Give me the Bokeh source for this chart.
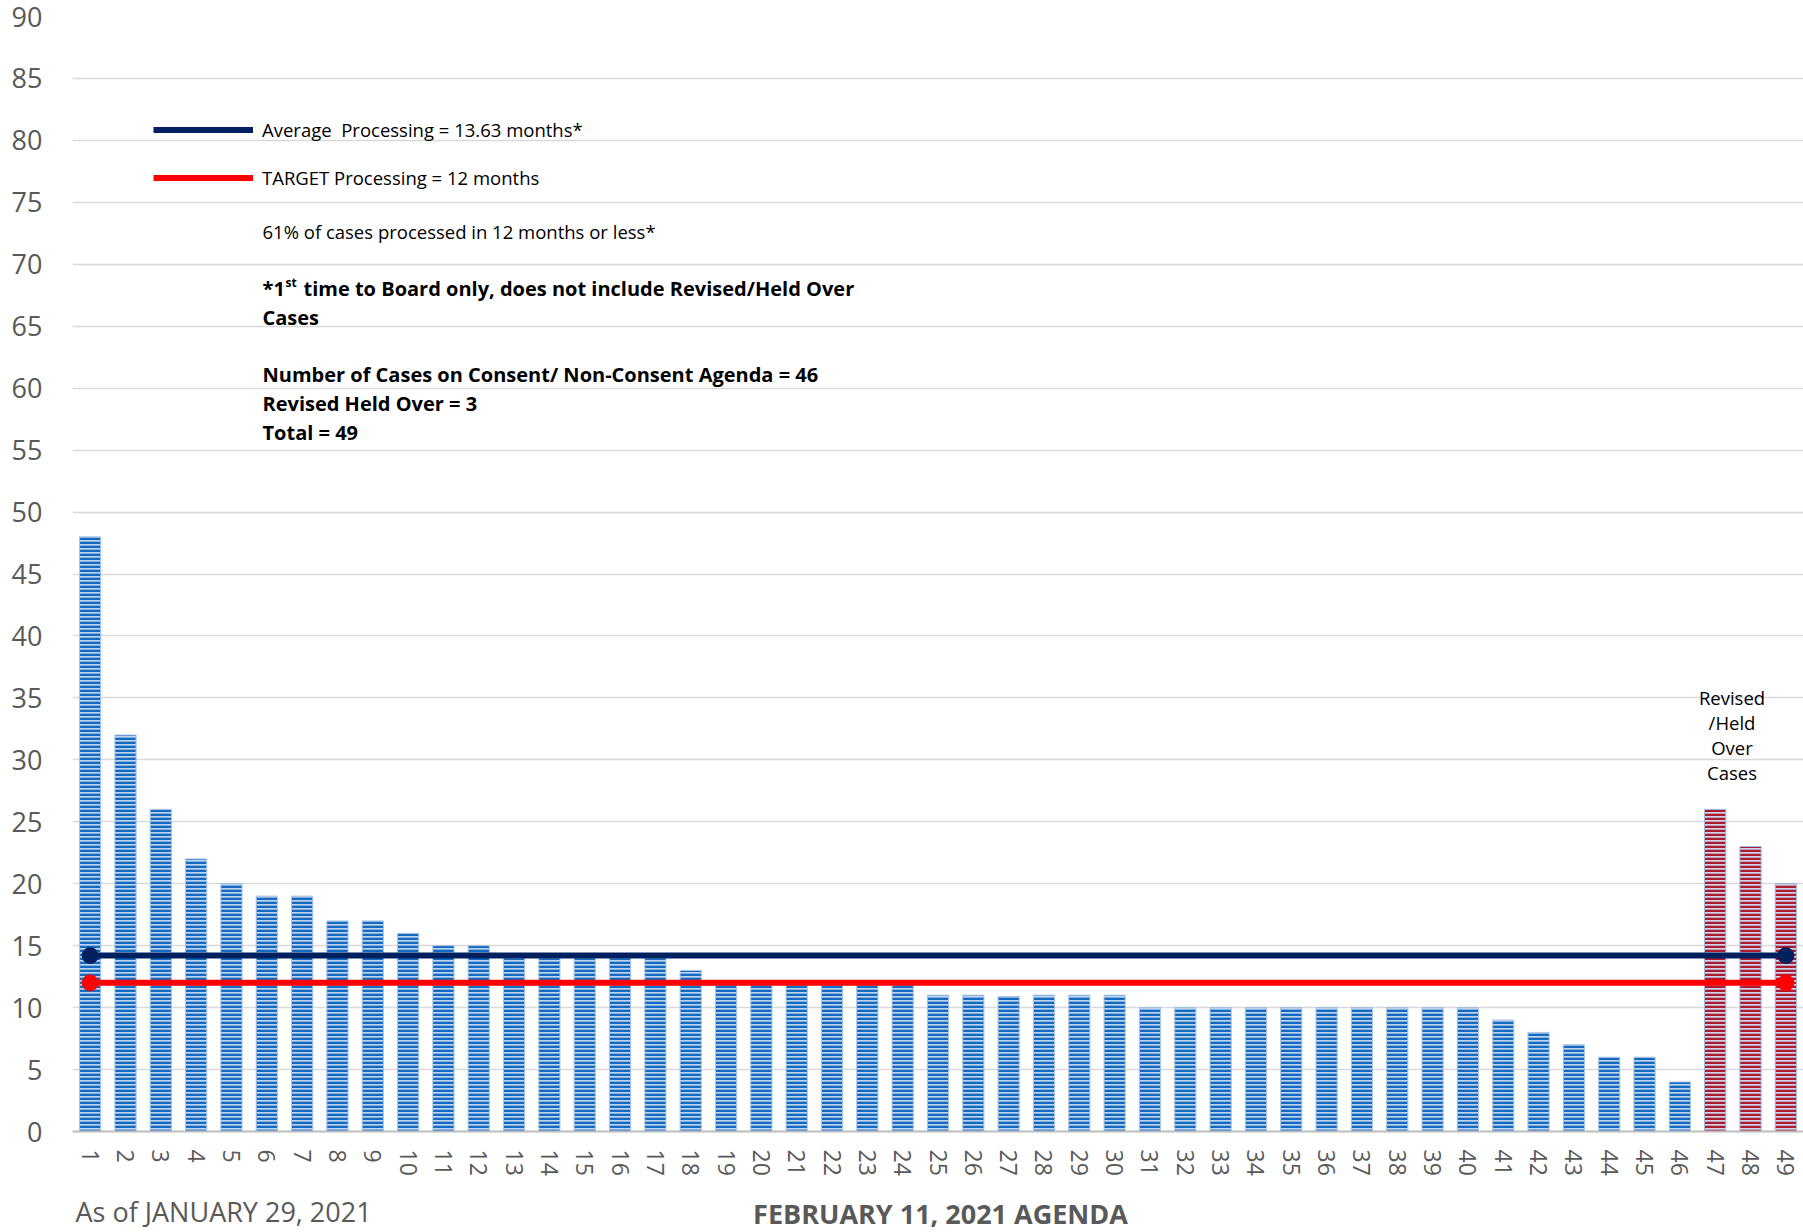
import math
from bokeh.plotting import figure
from bokeh.models import (Range1d, FixedTicker, Label, Legend, LegendItem, ColumnDataSource)
from bokeh.embed import file_html
from bokeh.resources import INLINE

# ---------------- data ----------------
cases = list(range(1, 50))
months = [48, 32, 26, 22, 20, 19, 19, 17, 17, 16, 15, 15,
          14, 14, 14, 14, 14, 13,
          12, 12, 12, 12, 12, 12,
          11, 11, 10.9, 11, 11, 11,
          10, 10, 10, 10, 10, 10, 10, 10, 10, 10,
          9, 8, 7, 6, 6, 4,
          26, 23, 20]
group = ["Consent"] * 46 + ["Revised/Held Over"] * 3
average_drawn = 14.2      # as drawn on the chart
target = 12
y_ticks = list(range(0, 95, 5))

FONT = "Open Sans"

# ---------------- layout constants ----------------
W, H = 1803, 1232
B_LEFT, B_TOP = 72, 16
ZERO_Y = 1131            # canvas y of the value-0 baseline
X0, X1 = 0.5, 49.5
FRAME_W = W - B_LEFT
PXU = FRAME_W / (X1 - X0)
FL = B_LEFT
FT = B_TOP
YPX = (ZERO_Y - FT) / 90.0          # pixels per month
Y_BOTTOM = -(H - ZERO_Y) / YPX      # frame reaches the canvas bottom


def xd(px):
    return X0 + (px - FL) / PXU


def yd(py):
    return (ZERO_Y - py) / YPX


p = figure(width=W, height=H, output_backend="svg", toolbar_location=None,
           x_range=Range1d(X0, X1), y_range=Range1d(Y_BOTTOM, 90),
           min_border_left=B_LEFT, min_border_right=0,
           min_border_top=B_TOP, min_border_bottom=0)
p.outline_line_color = None
p.background_fill_color = "white"

# bars
blue_src = ColumnDataSource(dict(x=[c for c, g in zip(cases, group) if g == "Consent"],
                                 top=[m for m, g in zip(months, group) if g == "Consent"]))
red_src = ColumnDataSource(dict(x=[c for c, g in zip(cases, group) if g != "Consent"],
                                top=[m for m, g in zip(months, group) if g != "Consent"]))
p.vbar(x="x", top="top", bottom=0, width=0.6, source=blue_src,
       fill_color="#BFD5EE", line_color="#A8C3E6", line_width=1,
       hatch_pattern="horizontal_line", hatch_color="#146AC0",
       hatch_scale=4, hatch_weight=2.7)
p.vbar(x="x", top="top", bottom=0, width=0.6, source=red_src,
       fill_color="#C9D6EC", line_color="#9DB8E0", line_width=1,
       hatch_pattern="horizontal_line", hatch_color="#AE1A2E",
       hatch_scale=4, hatch_weight=2.6)

# reference lines
line_x = [cases[0], cases[-1]]
avg_r = p.line(x=line_x, y=[average_drawn] * 2, line_color="#002060", line_width=6)
p.scatter(x=line_x, y=[average_drawn] * 2, size=16, color="#002060")
tgt_r = p.line(x=line_x, y=[target] * 2, line_color="#FF0000", line_width=6)
p.scatter(x=line_x, y=[target] * 2, size=16, color="#FF0000")

legend = Legend(items=[LegendItem(label="Average  Processing = 13.63 months*", renderers=[avg_r]),
                       LegendItem(label="TARGET Processing = 12 months", renderers=[tgt_r])],
                location=(81, (H - FT) - 174), orientation="vertical",
                glyph_width=100, glyph_height=25, label_height=25, spacing=23,
                label_standoff=9, padding=0, margin=0,
                border_line_alpha=0, background_fill_alpha=0,
                label_text_font=FONT, label_text_font_size="18.5px",
                label_text_color="black", label_text_baseline="middle")
p.add_layout(legend, "center")

# axes
p.yaxis.ticker = FixedTicker(ticks=y_ticks)
p.yaxis.axis_line_color = None
p.yaxis.major_tick_line_color = None
p.yaxis.minor_tick_line_color = None
p.yaxis.major_tick_out = 0
p.yaxis.major_tick_in = 0
p.yaxis.major_label_standoff = 30
p.yaxis.major_label_text_font = FONT
p.yaxis.major_label_text_font_size = "27px"
p.yaxis.major_label_text_color = "#595959"

p.xaxis.fixed_location = 0
p.xaxis.ticker = FixedTicker(ticks=cases)
p.xaxis.axis_line_color = "#BFBFBF"
p.xaxis.axis_line_width = 2
p.xaxis.major_tick_line_color = None
p.xaxis.minor_tick_line_color = None
p.xaxis.major_tick_out = 0
p.xaxis.major_tick_in = 0
p.xaxis.major_label_orientation = -math.pi / 2
p.xaxis.major_label_standoff = 18
p.xaxis.major_label_text_font = FONT
p.xaxis.major_label_text_font_size = "23px"
p.xaxis.major_label_text_color = "#595959"

p.xgrid.grid_line_color = None
p.ygrid.ticker = FixedTicker(ticks=y_ticks)
p.ygrid.grid_line_color = "#D9D9D9"
p.ygrid.grid_line_width = 1.5

# annotation texts
TX = 262


def add_label(text, px, py, size="18.5px", bold=False, color="black", align="left",
              baseline="middle", **kw):
    p.add_layout(Label(x=xd(px), y=yd(py), text=text, text_font=FONT,
                       text_font_size=size, text_color=color,
                       text_font_style="bold" if bold else "normal",
                       text_align=align, text_baseline=baseline, **kw))


add_label("61% of cases processed in 12 months or less*", TX, 231)
add_label("*1", TX, 288, size="20px", bold=True)
add_label("st", TX + 23, 282, size="12px", bold=True)
add_label("time to Board only, does not include Revised/Held Over", TX + 41, 288, size="20px", bold=True)
add_label("Cases", TX, 316.5, size="20px", bold=True)
add_label("Number of Cases on Consent/ Non-Consent Agenda = 46", TX, 374, size="20px", bold=True)
add_label("Revised Held Over = 3", TX, 403, size="20px", bold=True)
add_label("Total = 49", TX, 431.5, size="20px", bold=True)

add_label("Revised\n/Held\nOver\nCases", 1731.5, 734.7, align="center", text_line_height=1.0)

# bottom texts
add_label("FEBRUARY 11, 2021 AGENDA", 940, 1213, size="27px", bold=True, color="#595959",
          align="center")
add_label("As of JANUARY 29, 2021", 75, 1211, size="27px", color="#595959")

open("out.html", "w").write(file_html(p, INLINE))
